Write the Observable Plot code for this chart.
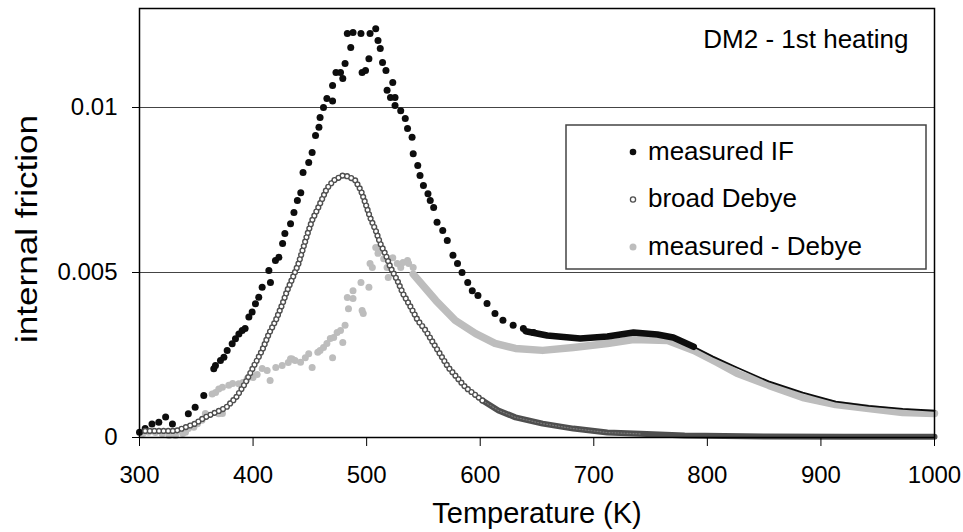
<!DOCTYPE html>
<html>
<head>
<meta charset="utf-8">
<script src="https://cdn.jsdelivr.net/npm/d3@7"></script>
<script src="https://cdn.jsdelivr.net/npm/@observablehq/plot@0.6"></script>
<style>
  html, body { margin: 0; padding: 0; background: #fff; }
  #wrap { position: relative; width: 963px; height: 532px; font-family: "Liberation Sans", Arial, sans-serif; }
  #legend { position: absolute; left: 0; top: 0; pointer-events: none; }
</style>
</head>
<body>
<div id="wrap"></div>
<script>
// ---- Text ----
const TITLE = "DM2 - 1st heating";
const X_LABEL = "Temperature (K)";
const Y_LABEL = "internal friction";
const X_TICKS = [300, 400, 500, 600, 700, 800, 900, 1000];
const Y_TICKS = [0, 0.005, 0.01];
const SERIES = ["measured IF", "broad Debye", "measured - Debye"];

// ---- measured IF: individual dots (peak region) ----
const IF_T = [300, 305, 311, 317, 323, 329, 343, 349, 356.6, 365.4, 366.9, 371.3, 374.3, 377.2, 381.6, 384.5, 387.5, 390.4, 393,
  396.3, 399.2, 402.1, 405, 408, 413.9, 415.3, 419.7, 422.7, 426, 428, 433, 436, 439, 442, 444, 449, 452, 455, 458, 459, 462,
  465, 470, 470, 473, 477, 479, 481, 483, 486, 488, 495, 496, 499, 502, 503, 508, 510, 512, 514, 517, 518, 521, 523, 525, 525,
  530, 534, 536, 540, 541, 545, 547, 550, 554, 556, 559, 562, 567, 571, 576, 580, 584, 589, 593, 598, 606, 613, 620, 629, 638, 647];
const IF_V = [0.00016, 0.00027, 0.00041, 0.00046, 0.00062, 0.00041, 0.00072, 0.00092, 0.00127, 0.00208, 0.00218, 0.00233, 0.00243, 0.00264, 0.00284, 0.00299, 0.00314, 0.00324, 0.0033,
  0.00365, 0.0038, 0.00405, 0.00425, 0.00455, 0.00506, 0.0047, 0.00536, 0.00546, 0.00588, 0.00618, 0.00648, 0.00682, 0.00718, 0.00742, 0.00803, 0.00833, 0.00864, 0.00915, 0.0094, 0.0097, 0.01,
  0.01027, 0.0102, 0.01067, 0.01106, 0.01106, 0.01088, 0.01133, 0.01224, 0.01182, 0.01227, 0.01224, 0.01106, 0.01112, 0.01148, 0.01224, 0.01239, 0.01203, 0.01179, 0.01136, 0.01112, 0.01052, 0.0103, 0.01076, 0.0103, 0.01006,
  0.0099, 0.00967, 0.00936, 0.0091, 0.0086, 0.00824, 0.00794, 0.00764, 0.00739, 0.00718, 0.00697, 0.00652, 0.00627, 0.00597, 0.00552, 0.00527, 0.005, 0.0047, 0.00445, 0.0043, 0.00406, 0.00376, 0.00355, 0.0034, 0.0033, 0.00318];
// measured IF: dense tail (drawn as a band / line)
const IF_TAIL_T = [640, 659, 688, 712, 735, 756, 770, 788, 805, 826, 854, 884, 913, 942, 972, 1000];
const IF_TAIL_V = [0.00322, 0.00309, 0.003, 0.00306, 0.00318, 0.00312, 0.00303, 0.00275, 0.00245, 0.00212, 0.0017, 0.00136, 0.00109, 0.00096, 0.00087, 0.00081];

// ---- broad Debye (open circles) ----
const DEB_T = [305, 318, 332, 349, 356, 365, 376, 385, 393, 400, 408, 414, 420, 426, 430, 435, 440, 443, 448, 452, 457, 461, 465, 471,
  479, 484, 490, 495, 499, 503, 508, 512, 517, 521, 527, 532, 539, 545, 552, 561, 572, 587, 602, 616, 631, 655, 682, 712, 741, 780, 850, 920, 1000];
const DEB_V = [0.0002, 0.0002, 0.0002, 0.00042, 0.00058, 0.00073, 0.0009, 0.00121, 0.00164, 0.00212, 0.00264, 0.00315, 0.00355, 0.00406, 0.00445, 0.00485, 0.00527, 0.00561, 0.00618, 0.00658, 0.00694, 0.00724, 0.00755, 0.00779,
  0.00794, 0.00791, 0.00779, 0.00748, 0.00709, 0.00667, 0.00627, 0.00588, 0.00552, 0.00515, 0.00476, 0.00436, 0.00394, 0.00355, 0.00324, 0.00273, 0.00212, 0.00152, 0.00112, 0.00082, 0.00061, 0.00042, 0.00027, 0.00015, 0.00011, 0.00006, 0.00003, 0.00002, 0.00002];

// ---- measured - Debye: individual dots ----
const DIF_T = [303, 308, 314, 320, 326, 331.7, 338, 340.5, 343, 347.8, 351, 355, 358, 364, 367, 369.8, 369.8, 373, 373, 378.6, 382, 387.4, 391, 394.8,
  400, 403.6, 408, 412.4, 415, 420, 425.6, 431, 433, 434.5, 437, 441.8, 446, 449, 452, 457, 459, 462, 465, 468, 470, 471, 474, 477, 479, 481,
  483, 484, 488, 488, 495, 496, 497, 502, 503, 505, 508, 510, 512, 515, 518, 519, 523, 527, 530, 532, 536, 537, 541];
const DIF_V = [0.00012, 0.00016, 0.00015, 0.00011, 0.00006, 0.00006, 0.00012, 0.00016, 0.00027, 0.00031, 0.00042, 0.00052, 0.00073, 0.00132, 0.00136, 0.00147, 0.00072, 0.00152, 0.00073, 0.00158, 0.00164, 0.00163, 0.00167, 0.00178,
  0.00182, 0.00191, 0.00209, 0.00203, 0.00173, 0.00212, 0.00218, 0.00227, 0.00239, 0.00238, 0.00233, 0.00228, 0.00242, 0.00254, 0.00212, 0.00258, 0.00264, 0.00273, 0.00285, 0.003, 0.00242, 0.00303, 0.00318, 0.00324, 0.00288, 0.0034,
  0.00424, 0.0039, 0.00421, 0.00445, 0.0047, 0.00385, 0.00376, 0.00455, 0.00527, 0.00515, 0.00576, 0.00558, 0.00567, 0.00542, 0.00515, 0.00485, 0.00545, 0.00527, 0.00515, 0.0053, 0.00536, 0.00527, 0.00515];
// measured - Debye: dense tail (band)
const DIF_TAIL_T = [541, 561, 578, 596, 613, 631, 655, 682, 712, 735, 765, 788, 809, 826, 854, 884, 913, 942, 972, 1000];
const DIF_TAIL_V = [0.00495, 0.00415, 0.00355, 0.00315, 0.00285, 0.0027, 0.00264, 0.00273, 0.00285, 0.00297, 0.00294, 0.00264, 0.00227, 0.00195, 0.00158, 0.00121, 0.001, 0.00088, 0.00076, 0.00073];

const COL_IF = "#0d0d0d";
const COL_DEB = "#4f4f4f";
const COL_DIF = "#bdbdbd";

const rows = (T, V) => T.map((t, i) => ({t, v: V[i]}));
const ifDots = rows(IF_T, IF_V);
const ifTail = rows(IF_TAIL_T, IF_TAIL_V);
const deb = rows(DEB_T, DEB_V);
const difDots = rows(DIF_T, DIF_V);
const difTail = rows(DIF_TAIL_T, DIF_TAIL_V);

const FONT = "'Liberation Sans', Arial, Helvetica, sans-serif";

const chart = Plot.plot({
  width: 963,
  height: 532,
  marginLeft: 139,
  marginRight: 29,
  marginTop: 8,
  marginBottom: 95,
  style: {fontFamily: FONT, background: "#fff", color: "#000", overflow: "visible"},
  x: {domain: [300, 1000]},
  y: {domain: [0, 0.013]},
  marks: [
    Plot.ruleY([0.005, 0.01], {stroke: "#444", strokeWidth: 1.2}),
    // broad Debye dense tail band
    Plot.line(deb, {x: "t", y: "v", filter: d => d.t >= 595, stroke: COL_DEB, strokeWidth: 6}),
    Plot.line(deb, {x: "t", y: "v", filter: d => d.t >= 595 && d.t <= 760, stroke: "#7a7a7a", strokeWidth: 1.2, strokeDasharray: "1 2"}),
    // measured - Debye
    Plot.line(difTail, {x: "t", y: "v", stroke: COL_DIF, strokeWidth: 7.5, strokeLinecap: "round"}),
    Plot.dot(difDots, {x: "t", y: "v", r: 3.5, fill: COL_DIF}),
    // measured IF
    Plot.dot(ifDots, {x: "t", y: "v", r: 3.5, fill: COL_IF}),
    Plot.line(ifTail, {x: "t", y: "v", filter: d => d.t <= 790, stroke: COL_IF, strokeWidth: 6.5, strokeLinecap: "round"}),
    Plot.line(ifTail, {x: "t", y: "v", filter: d => d.t >= 788, stroke: COL_IF, strokeWidth: 1.8}),
    // broad Debye open circles (peak region)
    Plot.line(deb, {x: "t", y: "v", filter: d => d.t <= 602, stroke: COL_DEB, strokeWidth: 6.2, strokeLinecap: "round", strokeDasharray: "0 4.6"}),
    Plot.line(deb, {x: "t", y: "v", filter: d => d.t <= 602, stroke: "#fff", strokeWidth: 3.4, strokeLinecap: "round", strokeDasharray: "0 4.6"}),
    Plot.frame({stroke: "#000", strokeWidth: 1.5}),
    Plot.axisX({ticks: X_TICKS, tickSize: 9, tickPadding: 19, fontSize: 24, label: null, tickFormat: d => String(d)}),
    Plot.axisY({ticks: Y_TICKS, tickSize: 7, tickPadding: 15, fontSize: 24, label: null, tickFormat: d => d === 0 ? "0" : String(d)}),
    Plot.text([X_LABEL], {text: d => d, frameAnchor: "bottom", dy: 76, fontSize: 29, lineAnchor: "middle", textAnchor: "middle"}),
    Plot.text([Y_LABEL], {text: d => d, frameAnchor: "left", rotate: -90, dx: -112, dy: 6, fontSize: 29, lineAnchor: "middle", textAnchor: "middle"}),
    Plot.text([TITLE], {text: d => d, frameAnchor: "top-right", dx: -26, dy: 31, fontSize: 26, lineAnchor: "middle", textAnchor: "end"})
  ]
});

// the reference's vertical axis title is drawn slightly elongated
chart.querySelectorAll("text").forEach(el => {
  if (el.textContent === Y_LABEL) {
    el.setAttribute("textLength", 228);
    el.setAttribute("lengthAdjust", "spacingAndGlyphs");
  }
});

const wrap = document.getElementById("wrap");
wrap.appendChild(chart);

// ---- legend overlay ----
const ns = "http://www.w3.org/2000/svg";
const lg = document.createElementNS(ns, "svg");
lg.setAttribute("id", "legend");
lg.setAttribute("width", 963);
lg.setAttribute("height", 532);
const box = document.createElementNS(ns, "rect");
box.setAttribute("x", 566); box.setAttribute("y", 125);
box.setAttribute("width", 360); box.setAttribute("height", 144);
box.setAttribute("fill", "#fff"); box.setAttribute("stroke", "#444"); box.setAttribute("stroke-width", 1.5);
lg.appendChild(box);
const styles = [
  {fill: COL_IF, stroke: "none", r: 3.3},
  {fill: "#fff", stroke: COL_DEB, r: 2.6},
  {fill: COL_DIF, stroke: "none", r: 3.5}
];
SERIES.forEach((name, i) => {
  const cy = 152 + i * 47.5;
  const c = document.createElementNS(ns, "circle");
  c.setAttribute("cx", 633); c.setAttribute("cy", cy); c.setAttribute("r", styles[i].r);
  c.setAttribute("fill", styles[i].fill); c.setAttribute("stroke", styles[i].stroke); c.setAttribute("stroke-width", 1.3);
  lg.appendChild(c);
  const t = document.createElementNS(ns, "text");
  t.setAttribute("x", 648); t.setAttribute("y", cy + 7.5);
  t.setAttribute("font-size", 26); t.setAttribute("font-family", FONT); t.setAttribute("fill", "#000");
  t.textContent = name;
  lg.appendChild(t);
});
wrap.appendChild(lg);
</script>
</body>
</html>
